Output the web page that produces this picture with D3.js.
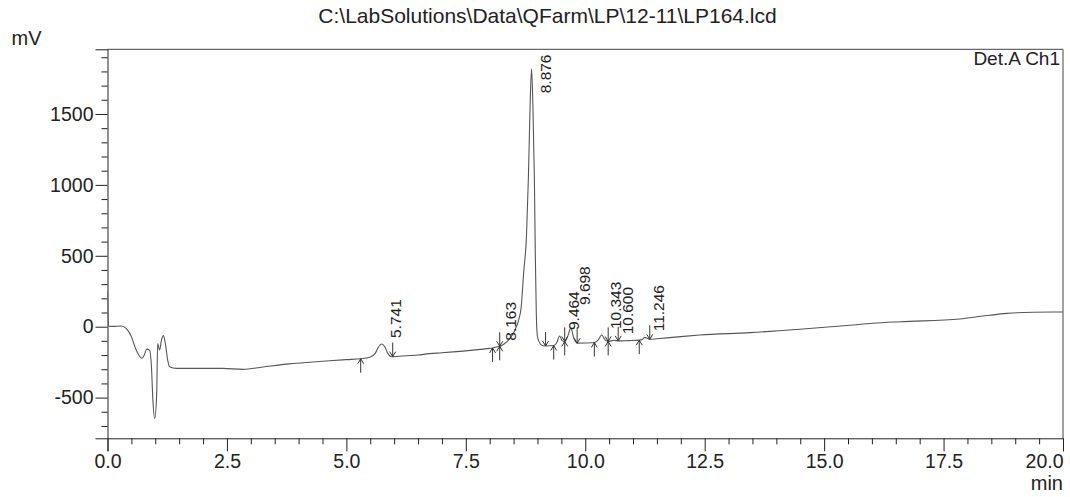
<!DOCTYPE html>
<html>
<head>
<meta charset="utf-8">
<script src="https://cdn.jsdelivr.net/npm/d3@7"></script>
<style>
  html, body { margin: 0; padding: 0; background: #fff; }
  svg { display: block; font-family: "Liberation Sans", Arial, sans-serif; }
</style>
</head>
<body>
<svg id="chart" width="1070" height="497"></svg>
<script>
// Chromatogram trace: retention time (min) and detector signal (mV)
const timeMin = [
  0.00, 0.02, 0.10, 0.29, 0.39, 0.50, 0.60, 0.72, 0.77, 0.82, 0.88, 0.92, 0.95, 0.99,
  1.03, 1.05, 1.09, 1.13, 1.17, 1.21, 1.26, 1.30, 1.44, 2.07, 2.41, 2.83, 3.25, 3.81,
  4.30, 4.65, 5.00, 5.30, 5.49, 5.60, 5.66, 5.741, 5.80, 5.87, 5.94, 6.10, 6.50, 6.74,
  7.00, 7.44, 7.80, 8.00, 8.06, 8.163, 8.21, 8.30, 8.42, 8.52, 8.60, 8.66, 8.71, 8.77,
  8.81, 8.845, 8.876, 8.905, 8.935, 8.955, 8.975, 9.00, 9.06, 9.12, 9.17, 9.34, 9.40,
  9.464, 9.52, 9.57, 9.63, 9.698, 9.76, 9.83, 10.00, 10.19, 10.27, 10.343, 10.42, 10.48,
  10.60, 10.69, 10.90, 11.13, 11.20, 11.246, 11.30, 11.35, 11.50, 12.00, 12.40, 13.45,
  14.49, 15.54, 16.02, 16.59, 17.84, 18.32, 18.83, 19.37, 20.00
];
const signalMV = [
  255, 3, 2, 5, -12, -70, -165, -223, -200, -158, -165, -282, -518, -647,
  -470, -118, -165, -94, -63, -118, -235, -282, -294, -294, -294, -301, -284, -262,
  -249, -240, -232, -226, -216, -190, -150, -122, -140, -190, -212, -208, -200, -190,
  -184, -172, -160, -153, -150, -141, -138, -122, -85, -30, 40, 141, 377, 640,
  1050, 1550, 1818, 1550, 1050, 500, 100, -71, -122, -134, -136, -133, -115,
  -66, -100, -104, -70, -10, -80, -116, -115, -112, -95, -59, -95, -104,
  -96, -100, -98, -95, -88, -75, -82, -89, -85, -70, -59, -42,
  -18, 10, 24, 35, 54, 75, 94, 102, 104
];

// Integrated peaks: apex retention time, integration start and end (min)
const peakRT    = [5.741, 8.163, 8.876, 9.464, 9.698, 10.343, 10.600, 11.246];
const peakStart = [5.30, 8.06, 8.21, 9.34, 9.57, 10.19, 10.48, 11.13];
const peakEnd   = [5.97, 8.21, 9.17, 9.57, 9.83, 10.48, 10.69, 11.35];

// Axis ticks
const xMajorTicks = [0, 2.5, 5, 7.5, 10, 12.5, 15, 17.5, 20];
const xMinorTicks = [0.5, 1, 1.5, 2, 3, 3.5, 4, 4.5, 5.5, 6, 6.5, 7, 8, 8.5, 9, 9.5,
  10.5, 11, 11.5, 12, 13, 13.5, 14, 14.5, 15.5, 16, 16.5, 17, 18, 18.5, 19, 19.5];
const yMajorTicks = [-500, 0, 500, 1000, 1500];
const yMinorTicks = [-700, -600, -400, -300, -200, -100, 100, 200, 300, 400, 600, 700,
  800, 900, 1100, 1200, 1300, 1400, 1600, 1700, 1800, 1900];

const titleText = "C:\\LabSolutions\\Data\\QFarm\\LP\\12-11\\LP164.lcd";

const svg = d3.select("#chart");
const L = 107.5, R = 1063, T = 49.3, B = 438.3;
const ink = "#222";

const x = d3.scaleLinear().domain([0, 20]).range([L, R]);
const y = d3.scaleLinear().domain([-787, 1956]).range([B, T]);

// Frame (top and right edges)
svg.append("path")
  .attr("d", `M${L},${T}H${R}V${B}`)
  .attr("fill", "none").attr("stroke", "#444").attr("stroke-width", 1);

// Y axis (plain hyphen for negatives)
const yAxisMajor = d3.axisLeft(y).tickValues(yMajorTicks).tickSize(12).tickPadding(2)
  .tickFormat(d => String(d));
const yAxisMinor = d3.axisLeft(y).tickValues(yMinorTicks).tickSize(6).tickFormat("");
const gy = svg.append("g").attr("transform", `translate(${L},0)`).call(yAxisMajor);
svg.append("g").attr("transform", `translate(${L},0)`).call(yAxisMinor)
  .call(g => g.select(".domain").remove());
gy.selectAll("text").attr("font-size", 19.5).attr("fill", ink)
  .attr("font-family", "Liberation Sans, Arial, sans-serif");

// X axis
const xAxisMajor = d3.axisBottom(x).tickValues(xMajorTicks).tickSize(13).tickPadding(3)
  .tickFormat(d => d.toFixed(1));
const xAxisMinor = d3.axisBottom(x).tickValues(xMinorTicks).tickSize(6).tickFormat("");
const gx = svg.append("g").attr("transform", `translate(0,${B})`).call(xAxisMajor);
svg.append("g").attr("transform", `translate(0,${B})`).call(xAxisMinor)
  .call(g => g.select(".domain").remove());
gx.selectAll("text").attr("font-size", 19.5).attr("fill", ink)
  .attr("font-family", "Liberation Sans, Arial, sans-serif");
// last label sits flush with the axis end
gx.selectAll(".tick").filter(d => d === 20).select("text").attr("text-anchor", "end");

svg.selectAll(".domain, .tick line").attr("stroke", ink);

// Trace
const pts = timeMin.map((t, i) => [t, signalMV[i]]);
const line = d3.line().x(d => x(d[0])).y(d => y(d[1])).curve(d3.curveMonotoneX);
svg.append("defs").append("clipPath").attr("id", "plotClip")
  .append("rect").attr("x", L).attr("y", T).attr("width", R - L).attr("height", B - T);
svg.append("path").datum(pts)
  .attr("clip-path", "url(#plotClip)")
  .attr("d", line)
  .attr("fill", "none").attr("stroke", "#555").attr("stroke-width", 1.1);

// signal value on the trace at any time
function signalAt(t) {
  const i = Math.max(1, Math.min(timeMin.length - 1, d3.bisectLeft(timeMin, t)));
  const t0 = timeMin[i - 1], t1 = timeMin[i];
  const f = t1 === t0 ? 0 : (t - t0) / (t1 - t0);
  return signalMV[i - 1] + f * (signalMV[i] - signalMV[i - 1]);
}

// Integration markers: up arrows at peak starts, down arrows at peak ends
const arrowLen = 14, head = 3;
const markers = svg.append("g").attr("fill", "none").attr("stroke", "#333").attr("stroke-width", 1);
peakStart.forEach(t => {
  const px = x(t), py = y(signalAt(t));
  markers.append("path")
    .attr("d", `M${px},${py + arrowLen}V${py}M${px - head},${py + 5}L${px},${py}L${px + head},${py + 5}`);
});
peakEnd.forEach(t => {
  const px = x(t), py = y(signalAt(t));
  markers.append("path")
    .attr("d", `M${px},${py - arrowLen}V${py}M${px - head},${py - 5}L${px},${py}L${px + head},${py - 5}`);
});

// Retention-time labels above each apex, kept inside the frame
let prevX = -Infinity, prevBottom = 0;
peakRT.forEach(rt => {
  const ax = x(rt);
  const label = rt.toFixed(3);
  let bottom = Math.max(y(signalAt(rt)) - 6, T + 4 + label.length * 8);
  if (ax - prevX < 12) bottom = Math.min(bottom, prevBottom - 25);
  svg.append("text")
    .attr("transform", `translate(${ax + 19},${bottom}) rotate(-90)`)
    .attr("font-size", 15.5).attr("fill", ink)
    .text(label);
  prevX = ax; prevBottom = bottom;
});

// Titles
svg.append("text").attr("x", 547.5).attr("y", 23).attr("text-anchor", "middle")
  .attr("font-size", 21).attr("fill", ink).text(titleText);
svg.append("text").attr("x", 11.5).attr("y", 45).attr("font-size", 20).attr("fill", ink).text("mV");
svg.append("text").attr("x", 1063).attr("y", 490).attr("text-anchor", "end")
  .attr("font-size", 20).attr("fill", ink).text("min");
svg.append("text").attr("x", 1060).attr("y", 64.7).attr("text-anchor", "end")
  .attr("font-size", 19).attr("fill", ink).text("Det.A Ch1");
</script>
</body>
</html>
